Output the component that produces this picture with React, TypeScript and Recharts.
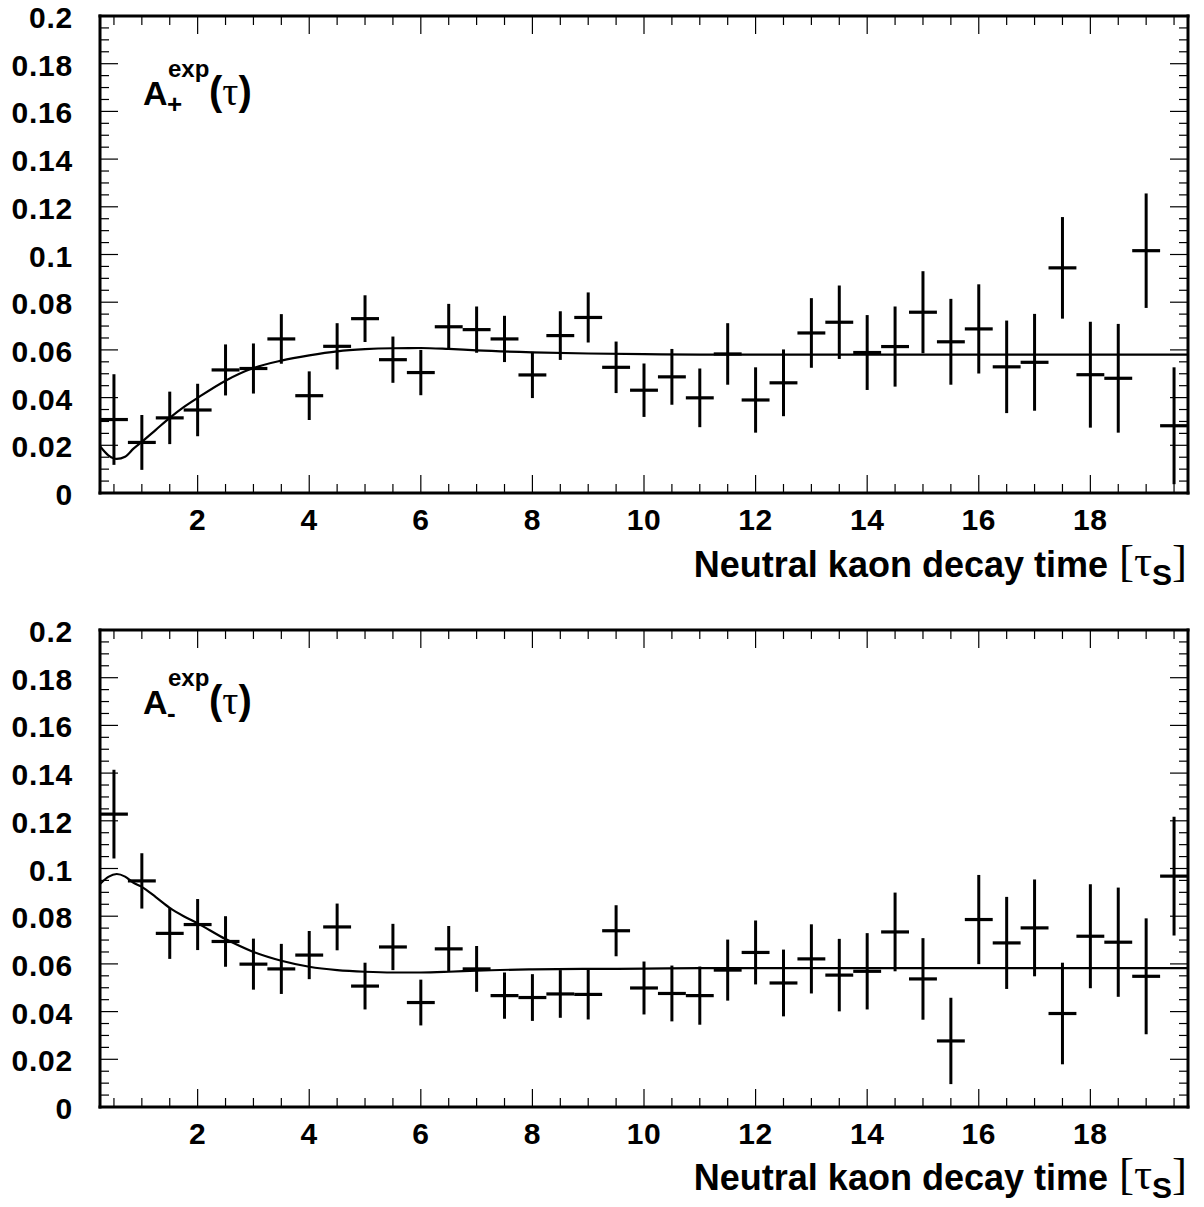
import React from 'react';
import { ComposedChart, XAxis, YAxis, Scatter, Line, ErrorBar } from 'recharts';

// ---- data ----
const bins = [0.5, 1, 1.5, 2, 2.5, 3, 3.5, 4, 4.5, 5, 5.5, 6, 6.5, 7, 7.5, 8, 8.5, 9, 9.5, 10, 10.5, 11, 11.5, 12, 12.5, 13, 13.5, 14, 14.5, 15, 15.5, 16, 16.5, 17, 17.5, 18, 18.5, 19, 19.5];
const binHalfWidth = 0.25;

const plusValues = [0.0308, 0.0212, 0.0315, 0.0348, 0.0516, 0.0522, 0.0646, 0.0408, 0.0615, 0.0731, 0.0559, 0.0505, 0.0697, 0.0685, 0.0646, 0.0495, 0.066, 0.0736, 0.0527, 0.0431, 0.0487, 0.0399, 0.0583, 0.039, 0.0462, 0.0671, 0.0716, 0.0589, 0.0614, 0.0758, 0.0634, 0.0688, 0.0529, 0.0548, 0.0944, 0.0496, 0.0481, 0.1016, 0.0282];
const plusErrors = [0.019, 0.0115, 0.011, 0.011, 0.0107, 0.0105, 0.0104, 0.0102, 0.0097, 0.0098, 0.0097, 0.0095, 0.0096, 0.0097, 0.0097, 0.0097, 0.0102, 0.0105, 0.0108, 0.0112, 0.0117, 0.0123, 0.0129, 0.0137, 0.014, 0.0146, 0.0154, 0.0157, 0.0168, 0.0172, 0.018, 0.0187, 0.0194, 0.0203, 0.0213, 0.0222, 0.0228, 0.024, 0.0245];

const minusValues = [0.1228, 0.0948, 0.0728, 0.0765, 0.0694, 0.0599, 0.0579, 0.0637, 0.0755, 0.0507, 0.0671, 0.0438, 0.0663, 0.0579, 0.0467, 0.0459, 0.0474, 0.0472, 0.0739, 0.0499, 0.0476, 0.0467, 0.0574, 0.0648, 0.052, 0.0621, 0.0553, 0.0569, 0.0734, 0.0537, 0.0277, 0.0786, 0.0688, 0.0751, 0.0392, 0.0716, 0.0691, 0.0548, 0.0968];
const minusErrors = [0.0186, 0.0116, 0.0107, 0.0107, 0.0106, 0.0107, 0.0105, 0.0101, 0.0098, 0.0098, 0.0097, 0.0096, 0.0096, 0.0096, 0.0097, 0.0098, 0.01, 0.0105, 0.0107, 0.0111, 0.0117, 0.0122, 0.0128, 0.0134, 0.014, 0.0145, 0.0152, 0.016, 0.0165, 0.0171, 0.0181, 0.0187, 0.0193, 0.0203, 0.0213, 0.0218, 0.0229, 0.0243, 0.0249];

const fitX = [0.25, 0.4, 0.55, 0.7, 0.85, 1, 1.25, 1.5, 1.75, 2, 2.5, 3, 3.5, 4, 4.5, 5, 5.5, 6, 6.5, 7, 8, 9, 10, 11, 12, 14, 16, 18, 19.75];
const plusFit = [0.0196, 0.0158, 0.0143, 0.0152, 0.0186, 0.0215, 0.0265, 0.0315, 0.036, 0.0399, 0.0471, 0.0524, 0.0555, 0.0577, 0.0594, 0.0603, 0.0607, 0.0608, 0.0604, 0.0598, 0.059, 0.0585, 0.0582, 0.058, 0.058, 0.058, 0.058, 0.058, 0.058];
const minusFit = [0.0935, 0.0965, 0.0977, 0.0966, 0.094, 0.0923, 0.088, 0.0835, 0.08, 0.077, 0.0704, 0.065, 0.0613, 0.0588, 0.0574, 0.0567, 0.0564, 0.0564, 0.0567, 0.0572, 0.0577, 0.0579, 0.058, 0.0582, 0.0582, 0.0582, 0.0582, 0.0582, 0.0582];

const xDomain = [0.25, 19.75];
const yDomain = [0, 0.2];
const xTicks = [0.5, 1, 1.5, 2, 2.5, 3, 3.5, 4, 4.5, 5, 5.5, 6, 6.5, 7, 7.5, 8, 8.5, 9, 9.5, 10, 10.5, 11, 11.5, 12, 12.5, 13, 13.5, 14, 14.5, 15, 15.5, 16, 16.5, 17, 17.5, 18, 18.5, 19, 19.5];
const xMajorTicks = [2, 4, 6, 8, 10, 12, 14, 16, 18];
const xTickLabels = ['2', '4', '6', '8', '10', '12', '14', '16', '18'];
const yTicks = [0, 0.005, 0.01, 0.015, 0.02, 0.025, 0.03, 0.035, 0.04, 0.045, 0.05, 0.055, 0.06, 0.065, 0.07, 0.075, 0.08, 0.085, 0.09, 0.095, 0.1, 0.105, 0.11, 0.115, 0.12, 0.125, 0.13, 0.135, 0.14, 0.145, 0.15, 0.155, 0.16, 0.165, 0.17, 0.175, 0.18, 0.185, 0.19, 0.195, 0.2];
const yMajorTicks = [0, 0.02, 0.04, 0.06, 0.08, 0.1, 0.12, 0.14, 0.16, 0.18, 0.2];
const yTickLabels = ['0', '0.02', '0.04', '0.06', '0.08', '0.1', '0.12', '0.14', '0.16', '0.18', '0.2'];

const xTitle = 'Neutral kaon decay time';

// ---- styling ----
const SANS = '"Liberation Sans", Arial, Helvetica, sans-serif';
const SERIF = '"Liberation Serif", "DejaVu Serif", serif';
const MAJOR = 18;
const MINOR = 9;
const TICK_FONT = 30;
const AX = 1; // axis band size

const findIdx = (arr: number[], v: number) => arr.findIndex((a) => Math.abs(a - v) < 1e-9);

const BottomTick = (props: any) => {
  const { x, y, payload } = props;
  const idx = findIdx(xMajorTicks, payload.value);
  const major = idx >= 0;
  return (
    <g>
      <line x1={x} y1={y} x2={x} y2={y - (major ? MAJOR : MINOR)} stroke="#000" strokeWidth={1.2} />
      {major && (
        <text x={x} y={y + 37} textAnchor="middle" fontFamily={SANS} fontWeight="bold" fontSize={TICK_FONT} letterSpacing={0.6} fill="#000">
          {xTickLabels[idx]}
        </text>
      )}
    </g>
  );
};

const TopTick = (props: any) => {
  const { x, y, payload } = props;
  const major = findIdx(xMajorTicks, payload.value) >= 0;
  return <line x1={x} y1={y} x2={x} y2={y + (major ? MAJOR : MINOR)} stroke="#000" strokeWidth={1.2} />;
};

const LeftTick = (props: any) => {
  const { x, y, payload } = props;
  const idx = findIdx(yMajorTicks, payload.value);
  const major = idx >= 0;
  return (
    <g>
      <line x1={x} y1={y} x2={x + (major ? MAJOR : MINOR)} y2={y} stroke="#000" strokeWidth={1.2} />
      {major && (
        <text x={x - 27} y={y + 12} textAnchor="end" fontFamily={SANS} fontWeight="bold" fontSize={TICK_FONT} letterSpacing={0.8} fill="#000">
          {yTickLabels[idx]}
        </text>
      )}
    </g>
  );
};

const RightTick = (props: any) => {
  const { x, y, payload } = props;
  const major = findIdx(yMajorTicks, payload.value) >= 0;
  return <line x1={x} y1={y} x2={x - (major ? MAJOR : MINOR)} y2={y} stroke="#000" strokeWidth={1.2} />;
};

const axisLineStyle = { stroke: '#000', strokeWidth: 3, strokeLinecap: 'square' as const };

type PanelProps = {
  values: number[];
  errors: number[];
  fit: number[];
  height: number;
};

const Panel = ({ values, errors, fit, height }: PanelProps) => {
  const points = bins.map((x, i) => ({ x, y: values[i], ey: errors[i], ex: binHalfWidth }));
  const fitData = fitX.map((x, i) => ({ x, y: fit[i] }));
  const plotH = 477;
  return (
    <ComposedChart
      width={1204}
      height={height}
      margin={{ top: 16 - AX, right: 16 - AX, left: 100 - AX, bottom: height - 16 - plotH - AX }}
    >
      <XAxis
        xAxisId="b"
        dataKey="x"
        type="number"
        domain={xDomain}
        allowDataOverflow
        ticks={xTicks}
        interval={0}
        height={AX}
        tickSize={0}
        tickMargin={0}
        tick={BottomTick}
        axisLine={axisLineStyle}
        tickLine={false}
      />
      <XAxis
        xAxisId="t"
        orientation="top"
        dataKey="x"
        type="number"
        domain={xDomain}
        allowDataOverflow
        ticks={xTicks}
        interval={0}
        height={AX}
        tickSize={0}
        tickMargin={0}
        tick={TopTick}
        axisLine={axisLineStyle}
        tickLine={false}
      />
      <YAxis
        yAxisId="l"
        type="number"
        domain={yDomain}
        allowDataOverflow
        ticks={yTicks}
        interval={0}
        width={AX}
        tickSize={0}
        tickMargin={0}
        tick={LeftTick}
        axisLine={axisLineStyle}
        tickLine={false}
      />
      <YAxis
        yAxisId="r"
        orientation="right"
        type="number"
        domain={yDomain}
        allowDataOverflow
        ticks={yTicks}
        interval={0}
        width={AX}
        tickSize={0}
        tickMargin={0}
        tick={RightTick}
        axisLine={axisLineStyle}
        tickLine={false}
      />
      <Line
        xAxisId="b"
        yAxisId="l"
        data={fitData}
        dataKey="y"
        type="monotone"
        dot={false}
        activeDot={false}
        stroke="#000"
        strokeWidth={2.2}
        isAnimationActive={false}
      />
      <Scatter
        xAxisId="b"
        yAxisId="l"
        data={points}
        dataKey="y"
        shape={() => <g />}
        isAnimationActive={false}
      >
        <ErrorBar dataKey="ey" direction="y" width={0} stroke="#000" strokeWidth={3} isAnimationActive={false} />
        <ErrorBar dataKey="ex" direction="x" width={0} stroke="#000" strokeWidth={3.2} isAnimationActive={false} />
      </Scatter>
    </ComposedChart>
  );
};

const PanelText = ({ sign, top, base }: { sign: string; top: number; base: number }) => (
  <svg width={1204} height={600} style={{ position: 'absolute', left: 0, top, pointerEvents: 'none' }}>
    <text x={143} y={base} fontFamily={SANS} fontWeight="bold" fontSize={34} fill="#000">A</text>
    <text x={168} y={base - 28} fontFamily={SANS} fontWeight="bold" fontSize={24} fill="#000">exp</text>
    <text x={167} y={base + 8} fontFamily={SANS} fontWeight="bold" fontSize={26} fill="#000">{sign}</text>
    <text x={209} y={base} fontSize={40} fill="#000">
      <tspan fontFamily={SANS} fontWeight="bold">(</tspan>
      <tspan fontFamily={SERIF}>τ</tspan>
      <tspan fontFamily={SANS} fontWeight="bold">)</tspan>
    </text>
    <text x={1108} y={577} textAnchor="end" fontFamily={SANS} fontWeight="bold" fontSize={36} fill="#000">
      {xTitle}
    </text>
    <text x={1119} y={576} fill="#000">
      <tspan fontFamily={SERIF} fontSize={45}>[τ</tspan>
      <tspan fontFamily={SANS} fontWeight="bold" fontSize={30} dy={9}>S</tspan>
      <tspan fontFamily={SERIF} fontSize={45} dy={-9}>]</tspan>
    </text>
  </svg>
);

export default function App() {
  return (
    <div style={{ position: 'absolute', left: 0, top: 0, width: 1204, height: 1207, background: '#fff', overflow: 'hidden' }}>
      <div style={{ position: 'absolute', left: 0, top: 0 }}>
        <Panel values={plusValues} errors={plusErrors} fit={plusFit} height={600} />
      </div>
      <PanelText sign="+" top={0} base={105} />
      <div style={{ position: 'absolute', left: 0, top: 614 }}>
        <Panel values={minusValues} errors={minusErrors} fit={minusFit} height={593} />
      </div>
      <PanelText sign="-" top={613} base={101} />
    </div>
  );
}
